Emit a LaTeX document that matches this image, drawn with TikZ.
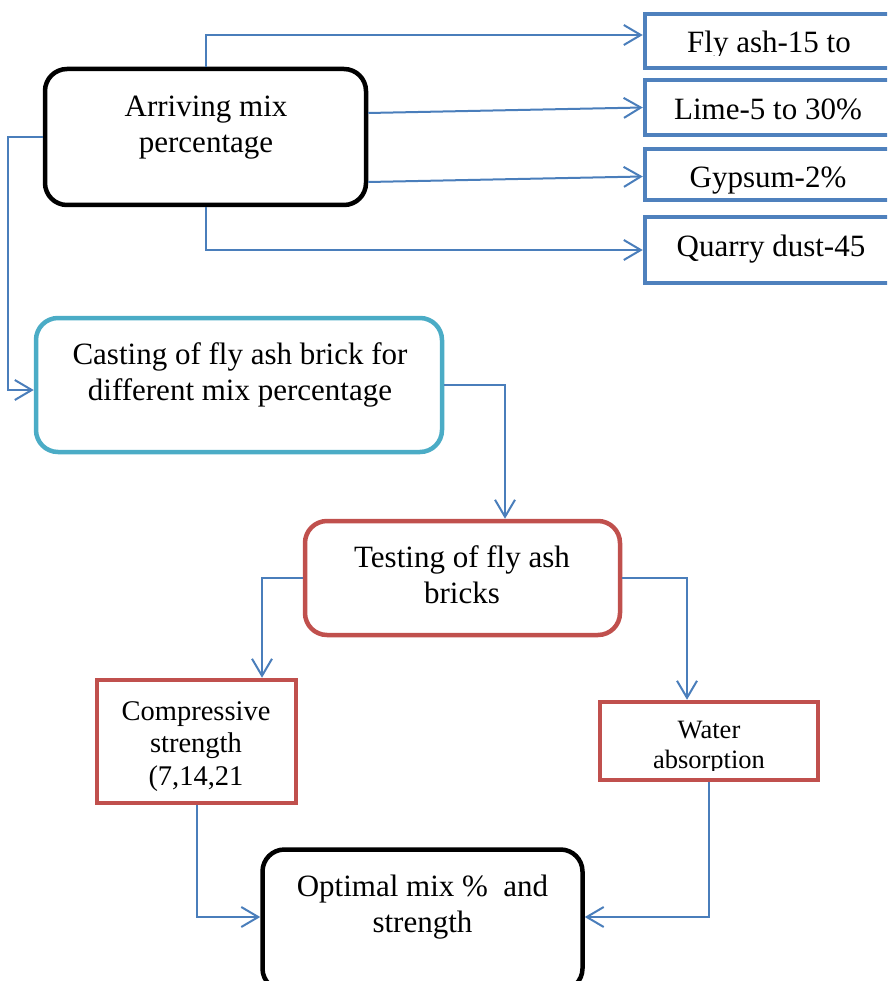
\documentclass[tikz,border=0pt]{standalone}
\usepackage{fontspec}
\setmainfont{Liberation Serif}
\usetikzlibrary{arrows.meta}
\usepackage{xcolor}

\definecolor{linkblue}{HTML}{4A7EBB}
\definecolor{boxblue}{HTML}{4F81BD}
\definecolor{boxcyan}{HTML}{4BACC6}
\definecolor{boxred}{HTML}{C0504D}

\tikzset{
  rbox/.style={rounded corners=22pt, line width=4.5pt, inner sep=0pt},
  sbox/.style={line width=4.5pt, inner sep=0pt},
  txt/.style={font=\fontsize{31}{36}\selectfont, align=center, inner sep=0pt},
  flow/.style={draw=linkblue, line width=2pt,
    -{Straight Barb[length=17pt,width=20pt,line width=2pt]}},
}

\begin{document}
\begin{tikzpicture}[x=1pt,y=-1pt]
\clip (0,0) rectangle (887,981);

% TOP %
\node[rbox, draw=black, minimum width=321pt, minimum height=136pt] (arriving) at (205.5,137) {};
\node[txt, anchor=base] (arrivingtxt) at (206,153) {Arriving mix\\percentage};

% ingredients
\node[sbox, draw=boxblue, minimum width=250pt, minimum height=54pt] (flyash) at (770,41) {};
\node[sbox, draw=boxblue, minimum width=250pt, minimum height=55pt] (lime) at (770,107.5) {};
\node[sbox, draw=boxblue, minimum width=250pt, minimum height=51pt] (gypsum) at (770,174.5) {};
\node[sbox, draw=boxblue, minimum width=250pt, minimum height=66pt] (quarry) at (770,250) {};

\begin{scope}
\clip (650,16) rectangle (890,56);
\node[txt, anchor=base] (flyashtxt) at (769,53) {Fly ash-15 to};
\end{scope}
\node[txt, anchor=base] (limetxt) at (768,120) {Lime-5 to 30\%};
\node[txt, anchor=base] (gypsumtxt) at (768,188) {Gypsum-2\%};
\node[txt, anchor=base] (quarrytxt) at (771,257) {Quarry dust-45};

% MIDDLE %
\node[rbox, draw=boxcyan, minimum width=406pt, minimum height=134pt] (casting) at (239,385) {};
\node[txt, anchor=base] (castingtxt) at (240,400) {Casting of fly ash brick for\\different mix percentage};

\node[rbox, draw=boxred, minimum width=315pt, minimum height=114pt] (testing) at (462.5,578) {};
\node[txt, anchor=base] (testingtxt) at (462,603) {Testing of fly ash\\bricks};

% tests
\node[sbox, draw=boxred, minimum width=199pt, minimum height=123pt] (compressive) at (196.5,741.5) {};
\node[txt, anchor=base, font=\fontsize{28.5}{32.5}\selectfont] (compressivetxt) at (196,785) {Compressive\\strength\\(7,14,21};

\node[sbox, draw=boxred, minimum width=218pt, minimum height=78pt] (water) at (709,741) {};
\begin{scope}
\clip (602,704) rectangle (816,770);
\node[txt, anchor=base, font=\fontsize{26.5}{30}\selectfont] (watertxt) at (709,768) {Water\\absorption};
\end{scope}

% BOTTOM %
\node[rbox, draw=black, minimum width=320pt, minimum height=141pt] (optimal) at (422.5,920) {};
\node[txt, anchor=base] (optimaltxt) at (422.5,932) {Optimal mix \%\ \ and\\strength};

% connectors
\draw[flow] (arriving.north) |- ([yshift=6pt]flyash.west);
\draw[flow] ([yshift=24pt]arriving.east) -- (lime.west);
\draw[flow] ([yshift=-45pt]arriving.east) -- ([yshift=-2pt]gypsum.west);
\draw[flow] (arriving.south) |- (quarry.west);
\draw[flow] (arriving.west) -- ++(-35,0) |- ([yshift=-5pt]casting.west);

\draw[flow] (casting.east) -| ([xshift=42.5pt]testing.north);
\draw[flow] (testing.west) -| ([xshift=65.5pt]compressive.north);
\draw[flow] (testing.east) -| ([xshift=-22pt]water.north);

\draw[flow] (compressive.south) |- ([yshift=3pt]optimal.west);
\draw[flow] (water.south) |- ([yshift=3pt]optimal.east);

\end{tikzpicture}
\end{document}
